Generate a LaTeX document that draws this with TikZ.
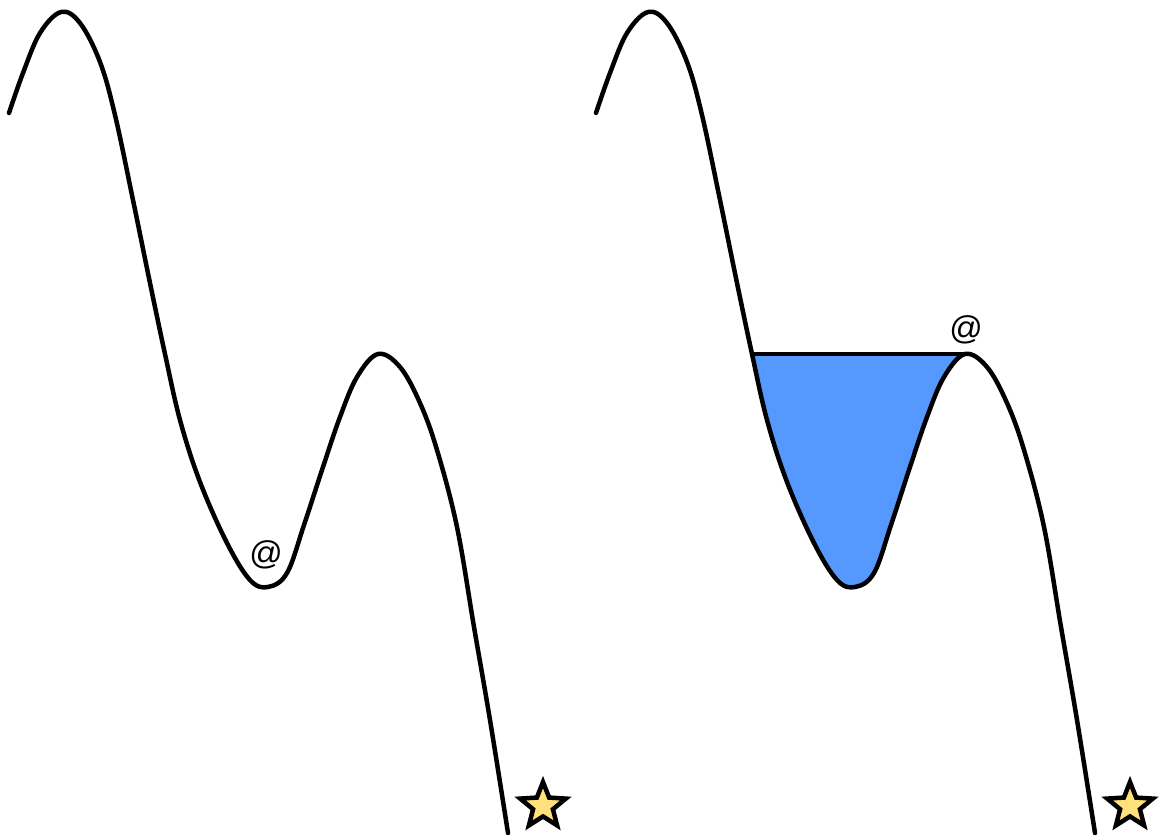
\documentclass[tikz,border=0pt]{standalone}
\usepackage{fontspec}
\setmainfont{Liberation Sans}
\usetikzlibrary{shapes.geometric}
\definecolor{water}{RGB}{85,153,255}
\definecolor{staryellow}{RGB}{255,224,122}
\tikzset{
  hill/.style={line width=4.5pt, line join=round, line cap=round},
  starbox/.style={star, star points=5, star point ratio=2.3, minimum size=48pt, inner sep=0pt, draw=black, line width=4.5pt, fill=staryellow},
  atlabel/.style={font=\fontsize{33}{33}\selectfont, inner sep=0pt}
}
\newcommand{\hillpath}{plot[smooth, tension=0.6] coordinates {(9,113) (23,73) (40,33) (61,12) (80,23) (100,62) (115,115) (133,200) (150,283) (165,354) (180,420) (200,482) (227,543) (250,580) (268,587) (287,573) (304,525) (322,470) (340,417) (357,377) (378,354) (400,367) (420,403) (437,450) (457,527) (474,627) (490,720) (508,833)}}
\begin{document}
\begin{tikzpicture}[x=1pt,y=-1pt]
\useasboundingbox (0,0) rectangle (1162,838);
% left panel
\draw[hill] \hillpath;
\node[atlabel] (atL) at (266,555) {@};
\node[starbox] (starL) at (543,806) {};
% right panel
\begin{scope}[xshift=587pt]
  \begin{scope}
    \clip (150,354) rectangle (378,838);
    \fill[water] \hillpath -- (700,838) -- (700,-10) -- (0,-10) -- cycle;
  \end{scope}
  \coordinate (lakeL) at (165,354);
  \coordinate (lakeR) at (378,354);
  \draw[hill] (lakeL) -- (lakeR);
  \draw[hill] \hillpath;
  \node[atlabel] (atR) at (379,330) {@};
  \node[starbox] (starR) at (543,806) {};
\end{scope}
\end{tikzpicture}
\end{document}
